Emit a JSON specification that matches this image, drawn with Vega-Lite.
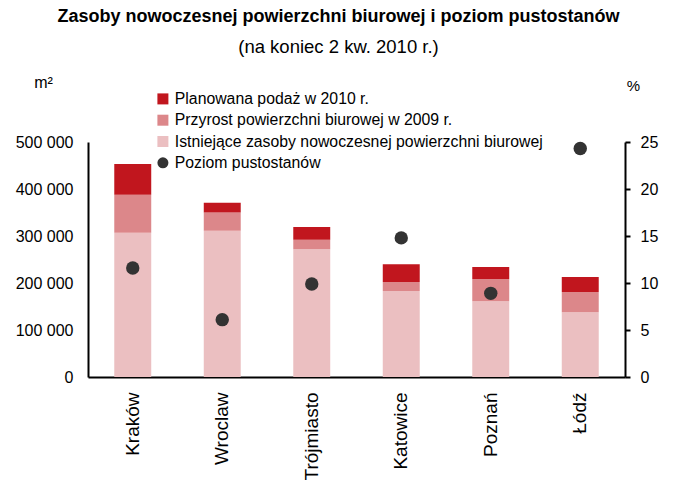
{
  "$schema": "https://vega.github.io/schema/vega-lite/v6.json",
  "width": 537,
  "height": 235,
  "autosize": {"type": "none"},
  "padding": {"left": 88, "top": 142, "right": 50, "bottom": 118},
  "background": "white",
  "title": {
    "text": "Zasoby nowoczesnej powierzchni biurowej i poziom pustostanów",
    "subtitle": "(na koniec 2 kw. 2010 r.)",
    "anchor": "middle",
    "frame": "group",
    "dx": -18,
    "offset": 18,
    "font": "Liberation Sans",
    "fontSize": 18,
    "fontWeight": "bold",
    "color": "black",
    "subtitleFont": "Liberation Sans",
    "subtitleFontSize": 18.5,
    "subtitleColor": "black",
    "subtitlePadding": 12
  },
  "config": {
    "locale": {"number": {"decimal": ",", "thousands": " ", "grouping": [3], "currency": ["", ""]}},
    "view": {"stroke": null},
    "axis": {"labelFont": "Liberation Sans", "titleFont": "Liberation Sans", "labelColor": "black", "titleColor": "black", "grid": false, "domainColor": "black", "tickColor": "black"},
    "legend": {"labelFont": "Liberation Sans", "labelColor": "black"}
  },
  "data": {
    "values": [
      {"miasto": "Kraków", "seria": "Istniejące zasoby nowoczesnej powierzchni biurowej", "m2": 307000},
      {"miasto": "Kraków", "seria": "Przyrost powierzchni biurowej w 2009 r.", "m2": 81000},
      {"miasto": "Kraków", "seria": "Planowana podaż w 2010 r.", "m2": 65000},
      {"miasto": "Kraków", "seria": "Poziom pustostanów", "proc": 11.6},
      {"miasto": "Wroclaw", "seria": "Istniejące zasoby nowoczesnej powierzchni biurowej", "m2": 311000},
      {"miasto": "Wroclaw", "seria": "Przyrost powierzchni biurowej w 2009 r.", "m2": 39000},
      {"miasto": "Wroclaw", "seria": "Planowana podaż w 2010 r.", "m2": 21000},
      {"miasto": "Wroclaw", "seria": "Poziom pustostanów", "proc": 6.1},
      {"miasto": "Trójmiasto", "seria": "Istniejące zasoby nowoczesnej powierzchni biurowej", "m2": 272000},
      {"miasto": "Trójmiasto", "seria": "Przyrost powierzchni biurowej w 2009 r.", "m2": 20000},
      {"miasto": "Trójmiasto", "seria": "Planowana podaż w 2010 r.", "m2": 27000},
      {"miasto": "Trójmiasto", "seria": "Poziom pustostanów", "proc": 9.9},
      {"miasto": "Katowice", "seria": "Istniejące zasoby nowoczesnej powierzchni biurowej", "m2": 183000},
      {"miasto": "Katowice", "seria": "Przyrost powierzchni biurowej w 2009 r.", "m2": 19000},
      {"miasto": "Katowice", "seria": "Planowana podaż w 2010 r.", "m2": 38000},
      {"miasto": "Katowice", "seria": "Poziom pustostanów", "proc": 14.8},
      {"miasto": "Poznań", "seria": "Istniejące zasoby nowoczesnej powierzchni biurowej", "m2": 161000},
      {"miasto": "Poznań", "seria": "Przyrost powierzchni biurowej w 2009 r.", "m2": 47500},
      {"miasto": "Poznań", "seria": "Planowana podaż w 2010 r.", "m2": 25500},
      {"miasto": "Poznań", "seria": "Poziom pustostanów", "proc": 8.9},
      {"miasto": "Łódź", "seria": "Istniejące zasoby nowoczesnej powierzchni biurowej", "m2": 138000},
      {"miasto": "Łódź", "seria": "Przyrost powierzchni biurowej w 2009 r.", "m2": 43000},
      {"miasto": "Łódź", "seria": "Planowana podaż w 2010 r.", "m2": 32000},
      {"miasto": "Łódź", "seria": "Poziom pustostanów", "proc": 24.3}
    ]
  },
  "encoding": {
    "x": {
      "field": "miasto",
      "type": "nominal",
      "sort": null,
      "scale": {"paddingInner": 0.587, "paddingOuter": 0.2935},
      "axis": {
        "title": null,
        "labelAngle": -90,
        "labelAlign": "right",
        "labelBaseline": "middle",
        "labelFontSize": 19,
        "labelPadding": 15,
        "ticks": false,
        "domainWidth": 2,
        "domainColor": "black"
      }
    }
  },
  "layer": [
    {
      "transform": [
        {"filter": "datum.seria !== 'Poziom pustostanów'"},
        {"calculate": "indexof(['Istniejące zasoby nowoczesnej powierzchni biurowej', 'Przyrost powierzchni biurowej w 2009 r.', 'Planowana podaż w 2010 r.'], datum.seria)", "as": "kolejnosc"}
      ],
      "mark": {"type": "bar"},
      "encoding": {
        "y": {
          "field": "m2",
          "type": "quantitative",
          "stack": "zero",
          "scale": {"domain": [0, 500000]},
          "axis": {
            "orient": "left",
            "values": [0, 100000, 200000, 300000, 400000, 500000],
            "format": ",d",
            "labelFontSize": 16,
            "ticks": false,
            "labelPadding": 15,
            "domainWidth": 2,
            "title": "m²",
            "titleAngle": 0,
            "titleFontSize": 16,
            "titleFontWeight": "normal",
            "titleAlign": "center",
            "titleBaseline": "middle",
            "titleX": -45,
            "titleY": -60
          }
        },
        "order": {"field": "kolejnosc", "type": "quantitative", "sort": "ascending"},
        "color": {
          "field": "seria",
          "type": "nominal",
          "sort": ["Istniejące zasoby nowoczesnej powierzchni biurowej", "Przyrost powierzchni biurowej w 2009 r.", "Planowana podaż w 2010 r.", "Poziom pustostanów"],
          "scale": {"range": ["#ebbfc1", "#dc878a", "#c1161e", "#333333"]},
          "legend": {
            "orient": "none",
            "legendX": 67,
            "legendY": -51,
            "title": null,
            "values": ["Planowana podaż w 2010 r.", "Przyrost powierzchni biurowej w 2009 r.", "Istniejące zasoby nowoczesnej powierzchni biurowej", "Poziom pustostanów"],
            "labelFontSize": 15.8,
            "symbolSize": 121,
            "symbolType": "square",
            "symbolStrokeWidth": 0,
            "symbolOpacity": 1,
            "labelOffset": 4,
            "rowPadding": 4.3,
            "padding": 0,
            "labelLimit": 500,
            "encode": {
              "symbols": {
                "update": {
                  "shape": [{"test": "datum.label === 'Poziom pustostanów'", "value": "circle"}, {"value": "square"}]
                }
              }
            }
          }
        }
      }
    },
    {
      "transform": [{"filter": "datum.seria === 'Poziom pustostanów'"}],
      "mark": {"type": "point", "filled": true, "opacity": 1, "size": 180},
      "encoding": {
        "y": {
          "field": "proc",
          "type": "quantitative",
          "scale": {"domain": [0, 25]},
          "axis": {
            "orient": "right",
            "values": [0, 5, 10, 15, 20, 25],
            "labelFontSize": 16,
            "tickSize": 5,
            "tickWidth": 2,
            "labelPadding": 10,
            "domainWidth": 2,
            "title": "%",
            "titleAngle": 0,
            "titleFontSize": 15,
            "titleFontWeight": "normal",
            "titleAlign": "center",
            "titleBaseline": "middle",
            "titleX": 8,
            "titleY": -57
          }
        },
        "color": {
          "field": "seria",
          "type": "nominal",
          "sort": ["Istniejące zasoby nowoczesnej powierzchni biurowej", "Przyrost powierzchni biurowej w 2009 r.", "Planowana podaż w 2010 r.", "Poziom pustostanów"]
        }
      }
    }
  ],
  "resolve": {"scale": {"y": "independent"}}
}
